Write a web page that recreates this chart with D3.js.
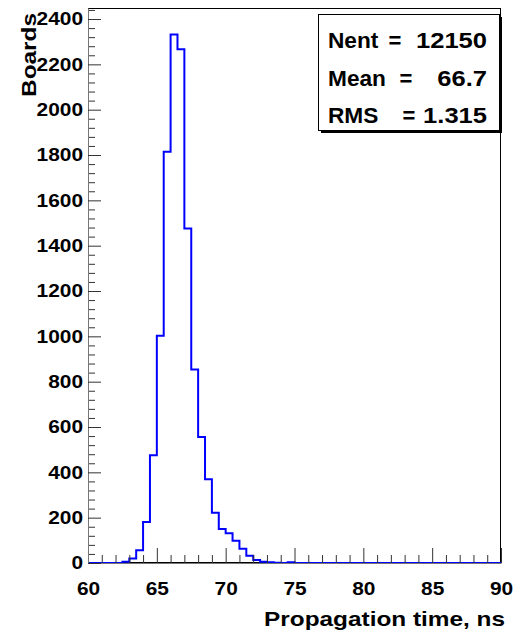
<!DOCTYPE html>
<html>
<head>
<meta charset="utf-8">
<script src="https://cdn.jsdelivr.net/npm/d3@7"></script>
<style>
  html, body { margin: 0; padding: 0; background: #fff; }
  svg text { font-family: 'Liberation Sans', Arial, Helvetica, sans-serif; font-weight: bold; fill: #000; }
</style>
</head>
<body>
<svg id="chart" width="516" height="637"></svg>
<script>
// histogram: 60 bins of 0.5 ns from 60 to 90
const binLow = 60;
const binWidth = 0.5;
const counts = [
  0, 0, 0, 0, 0, 6, 20, 56, 181, 475,
  1003, 1814, 2332, 2267, 1476, 854, 556, 369, 222, 150,
  131, 98, 63, 32, 13, 6, 3, 1, 0, 3,
  0, 0, 0, 0, 0, 0, 0, 0, 0, 0,
  0, 0, 0, 0, 0, 0, 0, 0, 0, 0,
  0, 0, 0, 0, 0, 0, 0, 0, 0, 0,
];
const xTicks = [60, 65, 70, 75, 80, 85, 90];
const yTicks = [0, 200, 400, 600, 800, 1000, 1200, 1400, 1600, 1800, 2000, 2200, 2400];
const statNames = ['Nent', 'Mean', 'RMS'];
const statValues = ['12150', '66.7', '1.315'];
const xTitle = 'Propagation time, ns';
const yTitle = 'Boards';

const width = 516;
const height = 637;
const margin = { top: 8, right: 15, bottom: 74, left: 88 };
const stretch = 1.16; // the original glyphs are drawn wider than Liberation

const svg = d3.select('#chart');

const xScale = d3.scaleLinear()
  .domain([binLow, binLow + counts.length * binWidth])
  .range([margin.left, width - margin.right]);

const yScale = d3.scaleLinear()
  .domain([0, d3.max(counts) * 1.05])
  .range([height - margin.bottom, margin.top]);

function widen(sel, factor = stretch) {
  sel.each(function () {
    const w = this.getComputedTextLength();
    this.setAttribute('textLength', w * factor);
    this.setAttribute('lengthAdjust', 'spacingAndGlyphs');
  });
}

// frame
svg.append('rect')
  .attr('x', margin.left + 0.5)
  .attr('y', margin.top + 0.5)
  .attr('width', width - margin.left - margin.right - 1)
  .attr('height', height - margin.top - margin.bottom - 1)
  .attr('fill', 'none')
  .attr('stroke', '#000');

// histogram outline
const points = [[binLow, 0]];
counts.forEach((c, i) => {
  points.push([binLow + i * binWidth, c]);
  points.push([binLow + (i + 1) * binWidth, c]);
});
points.push([binLow + counts.length * binWidth, 0]);

const line = d3.line()
  .x(d => xScale(d[0]))
  .y(d => yScale(d[1]));

svg.append('path')
  .datum(points)
  .attr('d', line)
  .attr('fill', 'none')
  .attr('stroke', '#0000ff')
  .attr('stroke-width', 2);

// x axis
const xMinor = d3.range(60, 91, 1).filter(v => v % 5 !== 0);
svg.append('g')
  .attr('transform', `translate(0,${height - margin.bottom})`)
  .call(d3.axisBottom(xScale).tickValues(xMinor).tickFormat('').tickSizeInner(-8).tickSizeOuter(0))
  .call(g => g.select('.domain').remove());

const xAxis = svg.append('g')
  .attr('transform', `translate(0,${height - margin.bottom})`)
  .call(d3.axisBottom(xScale).tickValues(xTicks).tickFormat(d3.format('d'))
    .tickSizeInner(-15).tickSizeOuter(0).tickPadding(19));
xAxis.select('.domain').attr('stroke', '#777');
xAxis.selectAll('.tick text').attr('font-size', 18).attr('font-family', null).call(widen);

// y axis
const yMinor = d3.range(0, 2441, 40).filter(v => v % 200 !== 0);
svg.append('g')
  .attr('transform', `translate(${margin.left},0)`)
  .call(d3.axisLeft(yScale).tickValues(yMinor).tickFormat('').tickSizeInner(-7).tickSizeOuter(0))
  .call(g => g.select('.domain').remove());

const yAxis = svg.append('g')
  .attr('transform', `translate(${margin.left},0)`)
  .call(d3.axisLeft(yScale).tickValues(yTicks).tickFormat(d3.format('d'))
    .tickSizeInner(-13).tickSizeOuter(0).tickPadding(5));
yAxis.select('.domain').attr('stroke', '#777');
yAxis.selectAll('.tick text').attr('font-size', 18).attr('font-family', null).call(widen);

svg.selectAll('.tick line').attr('stroke', '#333');

// titles
svg.append('text')
  .attr('x', width - margin.right + 4)
  .attr('y', 626)
  .attr('text-anchor', 'end')
  .attr('font-size', 21)
  .text(xTitle)
  .call(widen);

svg.append('text')
  .attr('transform', 'translate(36,13) rotate(-90)')
  .attr('text-anchor', 'end')
  .attr('font-size', 21)
  .text(yTitle)
  .call(widen);

// stats box
const box = { x: 318, y: 14, w: 181, h: 116 };
svg.append('rect')
  .attr('x', box.x + 3).attr('y', box.y + 3)
  .attr('width', box.w).attr('height', box.h)
  .attr('fill', '#000');
svg.append('rect')
  .attr('x', box.x + 0.5).attr('y', box.y + 0.5)
  .attr('width', box.w).attr('height', box.h)
  .attr('fill', '#fff')
  .attr('stroke', '#000');

const eqX = [395, 406, 409];
statNames.forEach((name, i) => {
  const yy = 48 + i * 37.5;
  svg.append('text').attr('x', 328).attr('y', yy).attr('font-size', 22).text(name).call(widen, 1.03);
  svg.append('text').attr('x', eqX[i]).attr('y', yy).attr('font-size', 22)
    .attr('text-anchor', 'middle').text('=');
  svg.append('text').attr('x', 487).attr('y', yy).attr('font-size', 22)
    .attr('text-anchor', 'end').text(statValues[i]).call(widen);
});
</script>
</body>
</html>
